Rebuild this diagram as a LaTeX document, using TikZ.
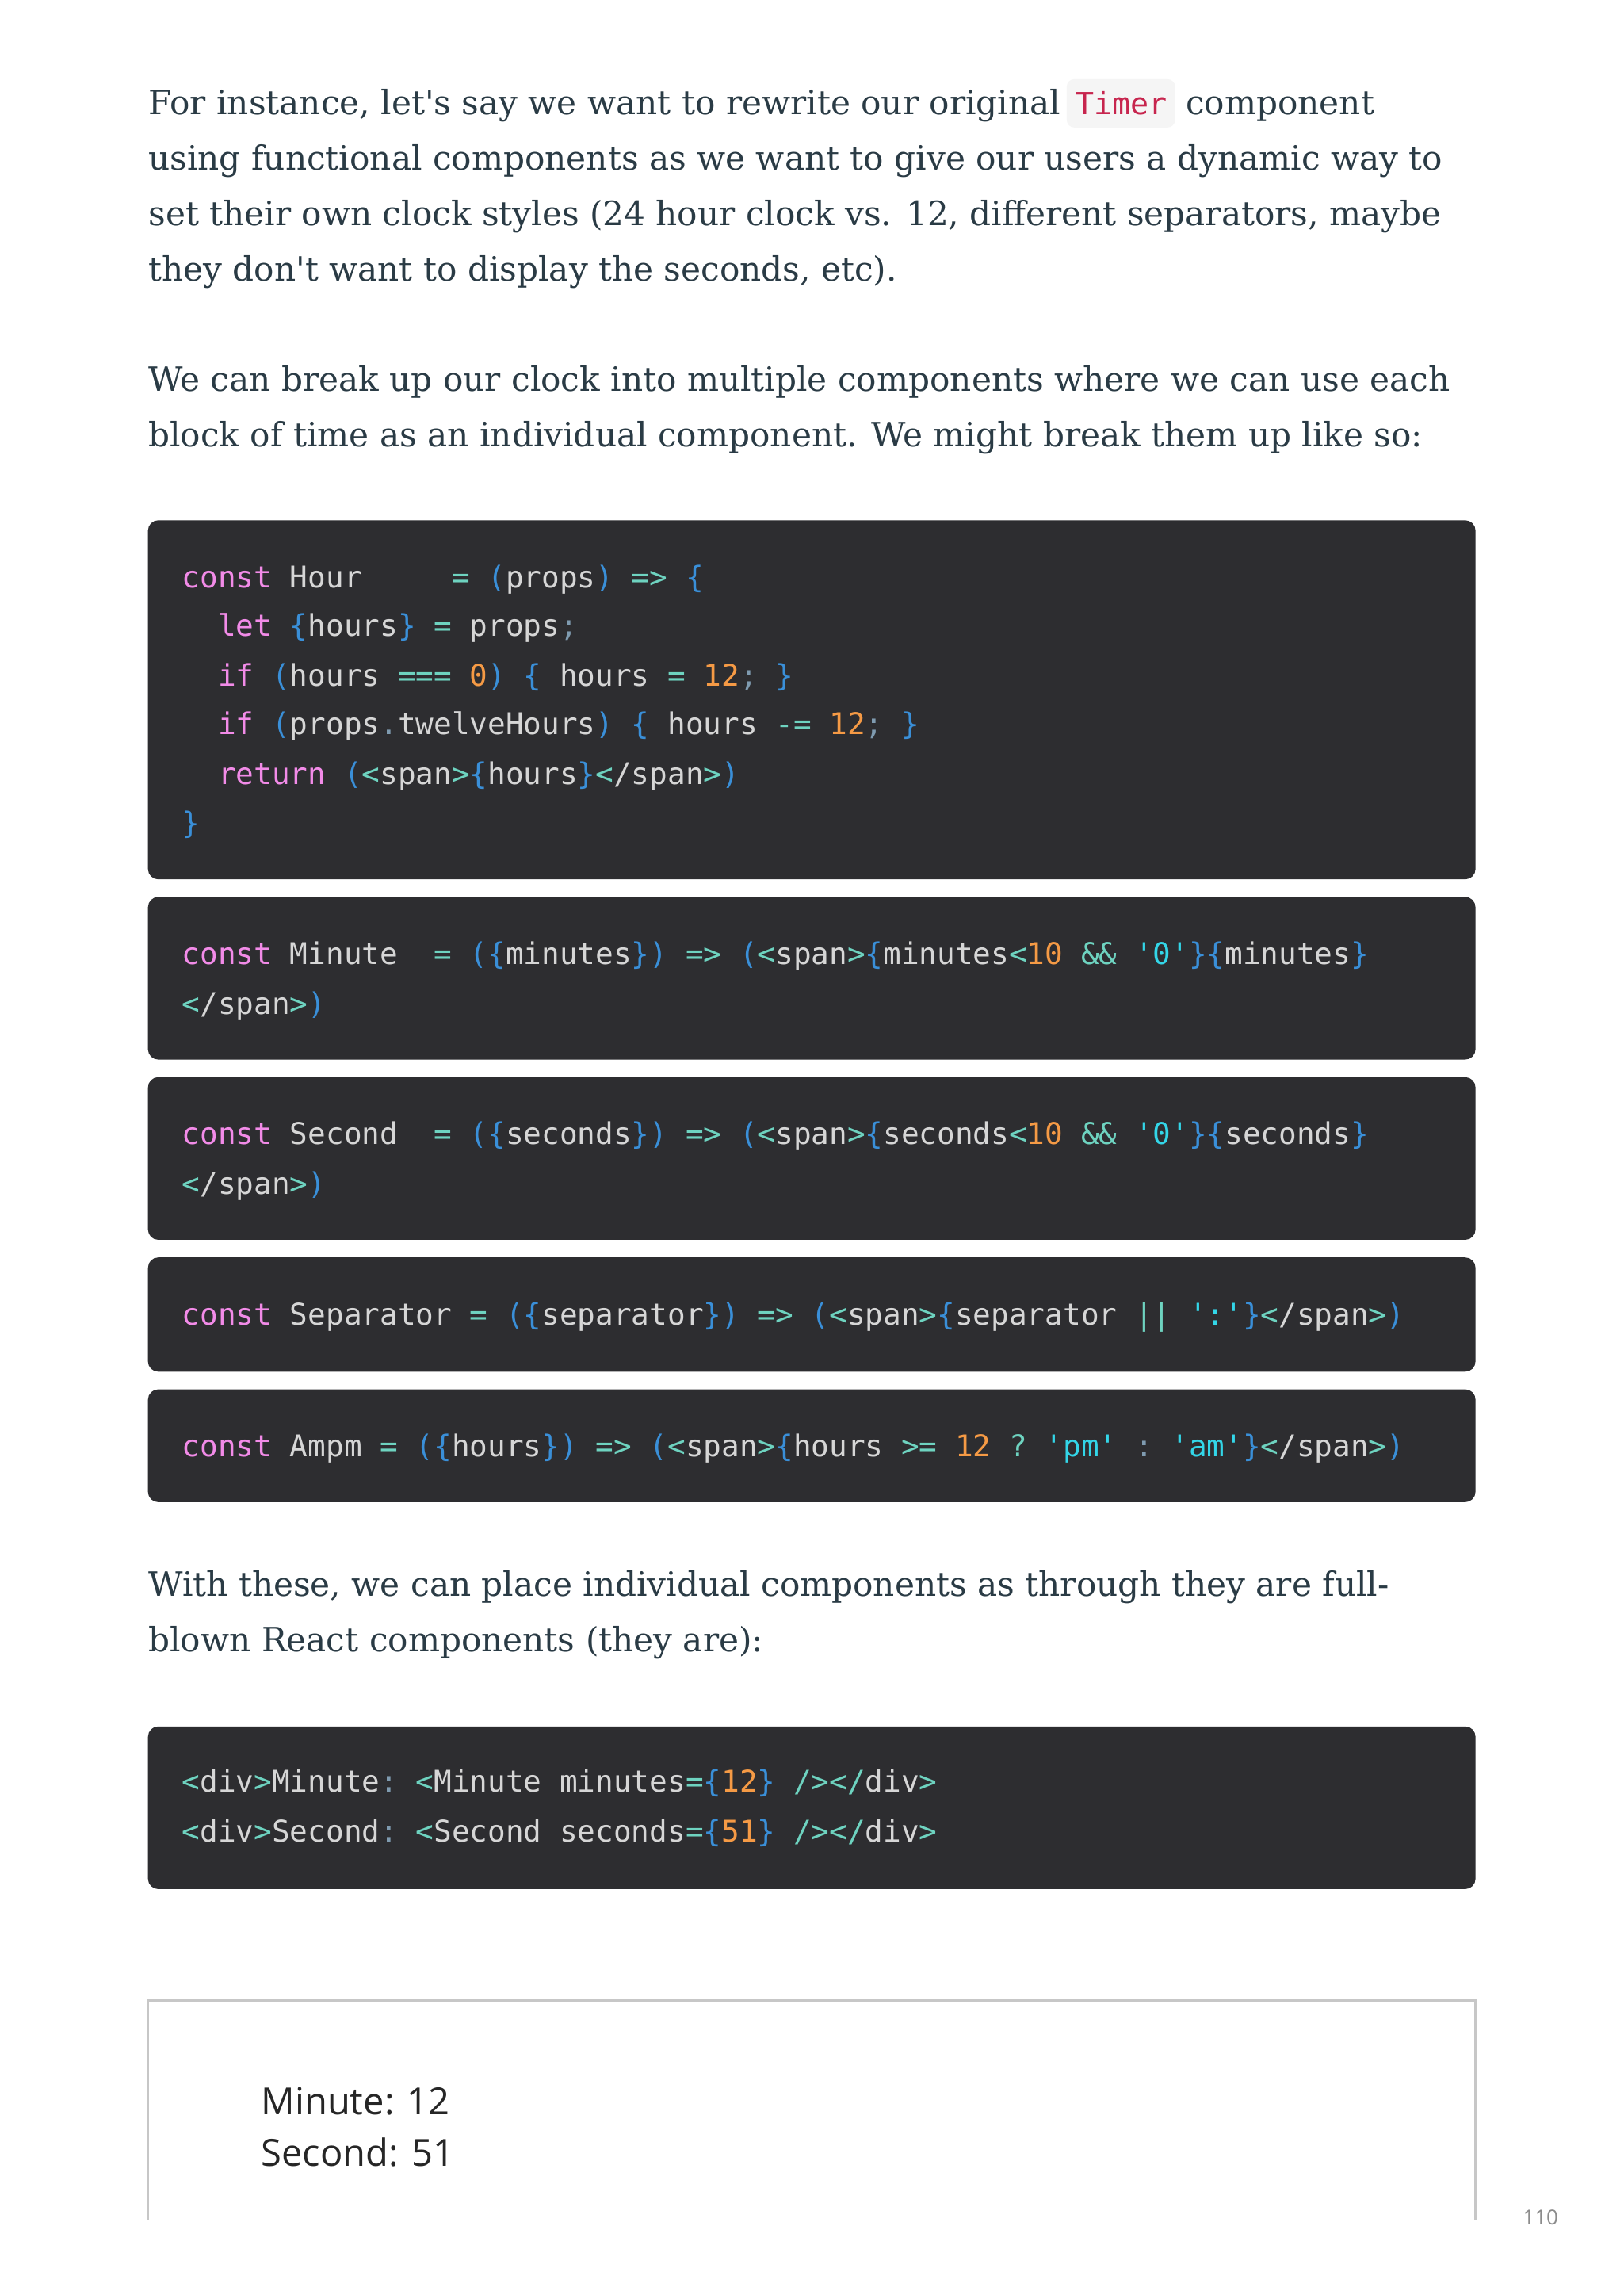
\documentclass[tikz,border=0pt]{standalone}
\usepackage{fontspec}
\setmainfont{DejaVu Serif}
\newfontfamily\bodyfont{DejaVu Serif}
\setmonofont{DejaVu Sans Mono}
\newfontfamily\outfont{Open Sans}
\definecolor{bodyc}{HTML}{2A3B45}
\definecolor{codebg}{HTML}{2D2D30}
\definecolor{ctext}{HTML}{D6D6D6}
\definecolor{ckw}{HTML}{F28BE8}
\definecolor{cbr}{HTML}{3A8FD8}
\definecolor{cop}{HTML}{6ED3C0}
\definecolor{cnum}{HTML}{F59A45}
\definecolor{cstr}{HTML}{33D6E8}
\definecolor{cpun}{HTML}{7F9BB0}
\definecolor{inlinebg}{HTML}{F5F5F5}
\definecolor{inlinec}{HTML}{C7254E}
\newcommand{\kw}[1]{\textcolor{ckw}{#1}}
\newcommand{\br}[1]{\textcolor{cbr}{#1}}
\newcommand{\op}[1]{\textcolor{cop}{#1}}
\newcommand{\nm}[1]{\textcolor{cnum}{#1}}
\newcommand{\strc}[1]{\textcolor{cstr}{#1}}
\newcommand{\pu}[1]{\textcolor{cpun}{#1}}
\newcommand{\ap}{\char39\relax}
\begin{document}
\begin{tikzpicture}[x=0.02cm,y=-0.02cm,
  body/.style={anchor=base west,inner sep=0,text=bodyc,font=\bodyfont\fontsize{13pt}{16pt}\selectfont},
  code/.style={anchor=base west,inner sep=0,text=ctext,font=\ttfamily\fontsize{11.6pt}{14pt}\selectfont},
  codeblock/.style={fill=codebg,rounded corners=4pt,draw=none},
  outtxt/.style={anchor=base west,inner sep=0,text=black!85,font=\outfont\fontsize{14.5pt}{18pt}\selectfont}]
\fill[white] (0,0) rectangle (1108,1566);
\useasboundingbox (0,0) rectangle (1108,1566);
% paragraph 1
\fill[inlinebg,rounded corners=3pt] (728,54) rectangle (802,87);
\node[body] (p1a) at (101,78) {For instance, let's say we want to rewrite our original};
\node[anchor=base west,inner sep=0,text=inlinec,font=\ttfamily\fontsize{11.8pt}{14pt}\selectfont] (timer) at (734,78) {Timer};
\node[body] (p1b) at (809,78) {component};
\node[body] (p1c) at (101,116) {using functional components as we want to give our users a dynamic way to};
\node[body] (p1d) at (101,154) {set their own clock styles (24 hour clock vs. 12, different separators, maybe};
\node[body] (p1e) at (101,192) {they don't want to display the seconds, etc).};
% paragraph 2
\node[body] (p2a) at (101,267) {We can break up our clock into multiple components where we can use each};
\node[body] (p2b) at (101,305) {block of time as an individual component. We might break them up like so:};
% block 1
\fill[codeblock] (101,355) rectangle (1007,600);
\node[code] (c1) at (124,401) {\kw{const} Hour\ \ \ \ \ \op{=} \br{(}props\br{)} \op{=>} \br{\{}};
\node[code] (c2) at (124,434) {\ \ \kw{let} \br{\{}hours\br{\}} \op{=} props\pu{;}};
\node[code] (c3) at (124,468) {\ \ \kw{if} \br{(}hours \op{===} \nm{0}\br{)} \br{\{} hours \op{=} \nm{12}\pu{;} \br{\}}};
\node[code] (c4) at (124,501) {\ \ \kw{if} \br{(}props\pu{.}twelveHours\br{)} \br{\{} hours \op{-=} \nm{12}\pu{;} \br{\}}};
\node[code] (c5) at (124,535) {\ \ \kw{return} \br{(}\op{<}span\op{>}\br{\{}hours\br{\}}\op{<}/span\op{>}\br{)}};
\node[code] (c6) at (124,569) {\br{\}}};
% block 2
\fill[codeblock] (101,612) rectangle (1007,723);
\node[code] (m1) at (124,658) {\kw{const} Minute\ \ \op{=} \br{(\{}minutes\br{\})} \op{=>} \br{(}\op{<}span\op{>}\br{\{}minutes\op{<}\nm{10} \op{\&\&} \strc{\ap 0\ap}\br{\}\{}minutes\br{\}}};
\node[code] (m2) at (124,692) {\op{<}/span\op{>}\br{)}};
% block 3
\fill[codeblock] (101,735) rectangle (1007,846);
\node[code] (s1) at (124,781) {\kw{const} Second\ \ \op{=} \br{(\{}seconds\br{\})} \op{=>} \br{(}\op{<}span\op{>}\br{\{}seconds\op{<}\nm{10} \op{\&\&} \strc{\ap 0\ap}\br{\}\{}seconds\br{\}}};
\node[code] (s2) at (124,815) {\op{<}/span\op{>}\br{)}};
% block 4
\fill[codeblock] (101,858) rectangle (1007,936);
\node[code] (sep) at (124,904) {\kw{const} Separator \op{=} \br{(\{}separator\br{\})} \op{=>} \br{(}\op{<}span\op{>}\br{\{}separator \op{||} \strc{\ap:\ap}\br{\}}\op{<}/span\op{>}\br{)}};
% block 5
\fill[codeblock] (101,948) rectangle (1007,1025);
\node[code] (ap) at (124,994) {\kw{const} Ampm \op{=} \br{(\{}hours\br{\})} \op{=>} \br{(}\op{<}span\op{>}\br{\{}hours \op{>=} \nm{12} \op{?} \strc{\ap pm\ap} \pu{:} \strc{\ap am\ap}\br{\}}\op{<}/span\op{>}\br{)}};
% paragraph 3
\node[body] (p3a) at (101,1089) {With these, we can place individual components as through they are full-};
\node[body] (p3b) at (101,1127) {blown React components (they are):};
% block 6
\fill[codeblock] (101,1178) rectangle (1007,1289);
\node[code] (d1) at (124,1223) {\op{<}div\op{>}Minute\pu{:} \op{<}Minute minutes\op{=}\br{\{}\nm{12}\br{\}} \op{/></}div\op{>}};
\node[code] (d2) at (124,1257) {\op{<}div\op{>}Second\pu{:} \op{<}Second seconds\op{=}\br{\{}\nm{51}\br{\}} \op{/></}div\op{>}};
% output box
\draw[black!22,line width=0.8pt] (101,1515) -- (101,1365) -- (1007,1365) -- (1007,1515);
\node[outtxt] (o1) at (178,1443) {Minute: 12};
\node[outtxt] (o2) at (178,1478) {Second: 51};
\node[anchor=base west,inner sep=0,text=black!45,font=\outfont\fontsize{8pt}{10pt}\selectfont] (pg) at (1039,1518) {110};
\end{tikzpicture}
\end{document}
